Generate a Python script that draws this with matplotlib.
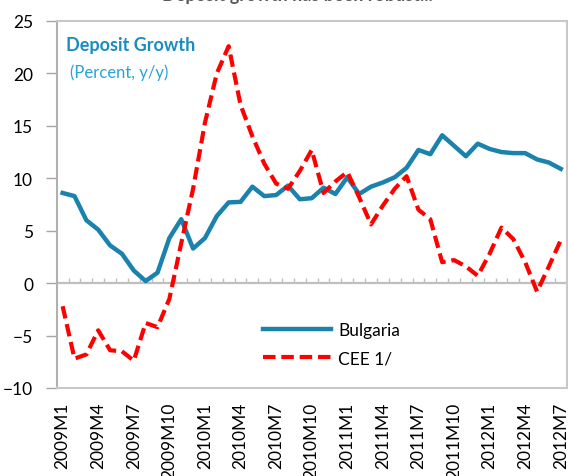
import matplotlib
matplotlib.use('Agg')
import matplotlib.pyplot as plt
import numpy as np

plt.rcParams['font.family'] = ['Lato', 'DejaVu Sans']

months = [f"{y}M{m}" for y in range(2009, 2013) for m in range(1, 13)][:43]
tick_labels = ['2009M1', '2009M4', '2009M7', '2009M10', '2010M1', '2010M4', '2010M7',
               '2010M10', '2011M1', '2011M4', '2011M7', '2011M10', '2012M1', '2012M4',
               '2012M7']

bulgaria = [8.6, 8.3, 6.0, 5.1, 3.6, 2.8, 1.2, 0.2, 1.0, 4.3, 6.1, 3.3, 4.3, 6.4, 7.7,
            7.75, 9.2, 8.3, 8.4, 9.3, 8.0, 8.1, 9.1, 8.5, 10.1, 8.5, 9.2, 9.6, 10.1, 11.0,
            12.7, 12.3, 14.1, 13.1, 12.1, 13.3, 12.8, 12.5, 12.4, 12.4, 11.8, 11.5, 10.9]
cee = [-2.2, -7.2, -6.8, -4.5, -6.4, -6.5, -7.4, -3.8, -4.2, -1.5, 3.8, 9.0, 15.3, 20.0,
       22.6, 17.0, 14.0, 11.4, 9.5, 9.0, 10.7, 12.7, 8.6, 9.7, 10.6, 8.2, 5.6, 7.4, 9.0,
       10.2, 7.0, 6.1, 2.0, 2.2, 1.6, 0.7, 2.8, 5.3, 4.2, 2.0, -0.8, 1.6, 4.1]

W, H = 568, 477
fig = plt.figure(figsize=(W / 100, H / 100), dpi=100)
ax = fig.add_axes([56.7 / W, 1 - 389 / H, 510 / W, 367 / H])

x = np.arange(len(months))
ax.plot(x, bulgaria, color='#1b82ad', lw=3.2, label='Bulgaria', zorder=3)
ax.plot(x, cee, color='#ff0000', lw=3.0, dashes=(3.0, 1.4), label='CEE 1/', zorder=4)

ax.set_xlim(-0.5, len(months) - 0.5)
ax.set_ylim(-10, 25)
ax.set_yticks(range(-10, 26, 5))
ax.tick_params(axis='y', direction='out', length=8, width=1, color='#a6a6a6', pad=9,
               labelsize=12.5)

xt = [months.index(l) for l in tick_labels]
ax.set_xticks(xt)
ax.set_xticklabels(tick_labels, rotation=90, va='top', ha='center')
ax.tick_params(axis='x', length=0, pad=10, labelsize=12.5)

for s in ['top', 'right', 'bottom']:
    ax.spines[s].set_color('#c8c8c8')
    ax.spines[s].set_linewidth(1.5)
ax.spines['left'].set_color('#b0b0b0')
ax.spines['left'].set_linewidth(1.5)

ax.axhline(0, color='#bfbfbf', lw=1.6, zorder=1)
bounds = np.arange(0.5, len(months) - 0.5)
ax.vlines(bounds, 0, 0.45, color='#bfbfbf', lw=1.0, zorder=1)

ax.legend(loc='center left', bbox_to_anchor=(0.405, 0.12), frameon=False, fontsize=12.5,
          handlelength=3.9, handletextpad=0.4, labelspacing=0.7, borderpad=0,
          borderaxespad=0)

fig.text(66 / W, 1 - 45 / H, 'Deposit Growth', fontsize=13, fontweight='bold',
         color='#1b8cc0', va='center', ha='left')
fig.text(70 / W, 1 - 73 / H, '(Percent, y/y)', fontsize=12, color='#2aa3d8',
         va='center', ha='left')
fig.text(297 / W, 1 - 1.5 / H, 'Deposit growth has been robust...', fontsize=13,
         fontweight='bold', color='#595959', ha='center', va='baseline')

fig.savefig('out.png', dpi=100)
